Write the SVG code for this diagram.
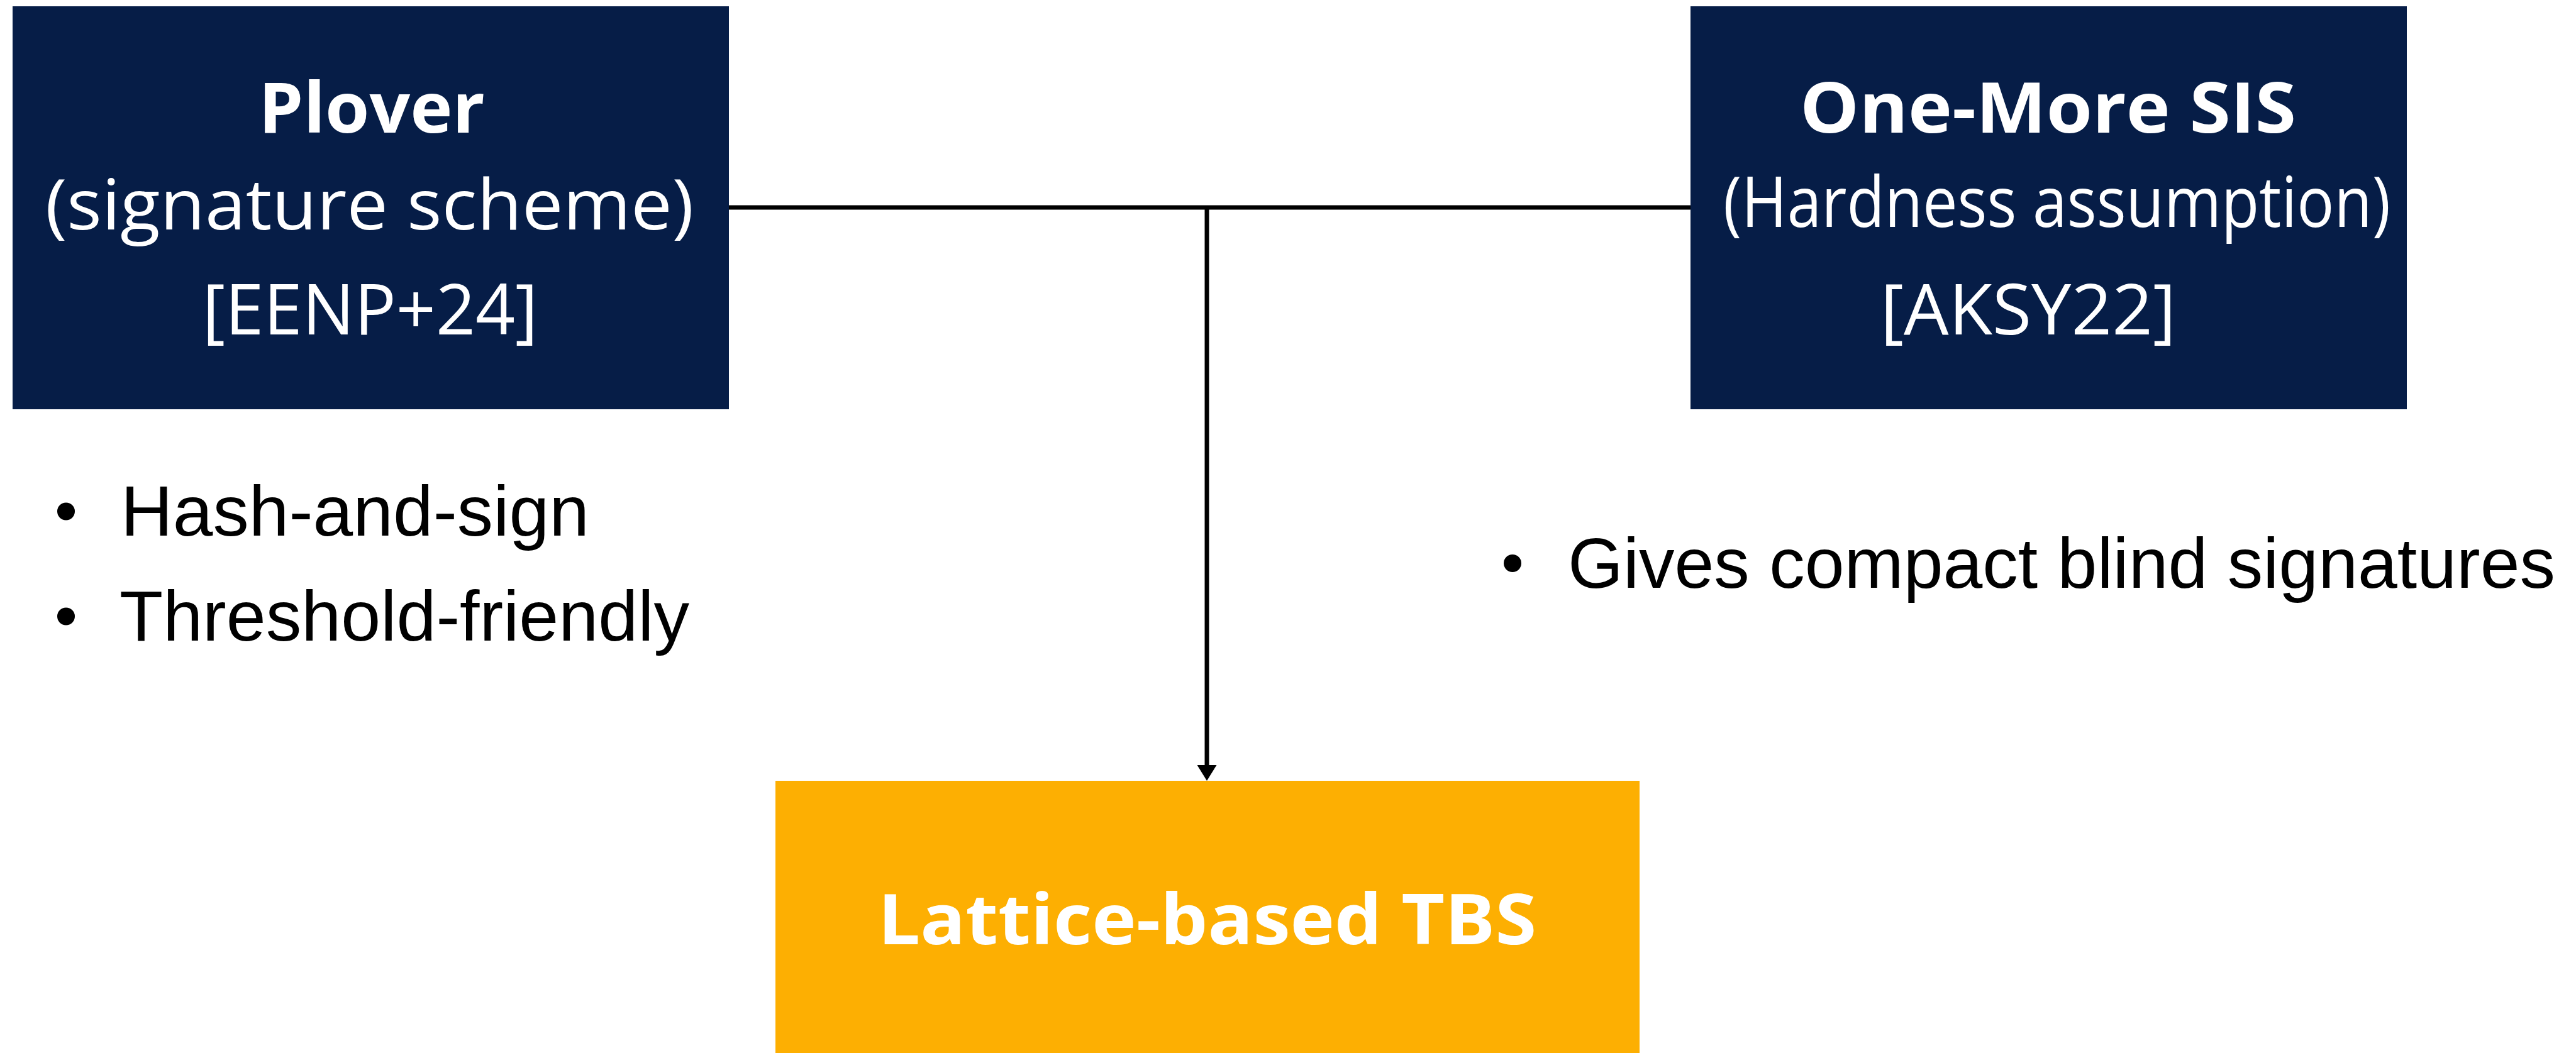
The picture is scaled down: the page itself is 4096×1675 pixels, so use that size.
<svg xmlns="http://www.w3.org/2000/svg" width="4096" height="1675" viewBox="0 0 4096 1675">
  <defs>
    <style>
      .navy { fill: #061d47; }
      .gold { fill: #fdaf02; }
      .title { font-family: "Open Sans", "Noto Sans", sans-serif; font-weight: 700; font-size: 112px; fill: #ffffff; }
      .sub { font-family: "Open Sans", "Noto Sans", sans-serif; font-weight: 400; font-size: 112px; fill: #ffffff; }
      .note { font-family: "Liberation Sans", Arial, sans-serif; font-size: 113px; fill: #000000; }
      .dot { fill: #000000; }
      .wire { fill: none; stroke: #000000; stroke-width: 7; }
    </style>
    <marker id="arrow" viewBox="0 0 25 31" refX="0" refY="15.5" markerWidth="25" markerHeight="31" markerUnits="userSpaceOnUse" orient="auto">
      <path d="M0,0 L25,15.5 L0,31 z" fill="#000000"/>
    </marker>
  </defs>

  <rect width="4096" height="1675" fill="#ffffff"/>

  <!-- connectors: the two sources join on a bar, which drops to the result -->
  <g id="connectors">
    <line class="wire" x1="1159" y1="330" x2="2688" y2="330"/>
    <line class="wire" x1="1919" y1="330" x2="1919" y2="1217" stroke-width="6.5" marker-end="url(#arrow)"/>
  </g>

  <g id="plover">
    <rect class="navy" x="20" y="10" width="1139" height="641"/>
    <text class="title" x="411" y="211" textLength="360" lengthAdjust="spacingAndGlyphs">Plover</text>
    <text class="sub" x="72" y="365" textLength="1031" lengthAdjust="spacingAndGlyphs">(signature scheme)</text>
    <text class="sub" x="322" y="532" textLength="533" lengthAdjust="spacingAndGlyphs">[EENP+24]</text>
  </g>

  <g id="plover-notes">
    <circle class="dot" cx="105" cy="813.5" r="14"/>
    <text class="note" x="192" y="852" textLength="745" lengthAdjust="spacingAndGlyphs">Hash-and-sign</text>
    <circle class="dot" cx="105" cy="980.5" r="14"/>
    <text class="note" x="190" y="1019" textLength="906" lengthAdjust="spacingAndGlyphs">Threshold-friendly</text>
  </g>

  <g id="one-more-sis">
    <rect class="navy" x="2688" y="10" width="1139" height="641"/>
    <text class="title" x="2862" y="211" textLength="789" lengthAdjust="spacingAndGlyphs">One-More SIS</text>
    <text class="sub" x="2740" y="361" font-size="96" textLength="1061" lengthAdjust="spacingAndGlyphs">(Hardness assumption)</text>
    <text class="sub" x="2990" y="532" textLength="470" lengthAdjust="spacingAndGlyphs">[AKSY22]</text>
  </g>

  <g id="one-more-sis-notes">
    <circle class="dot" cx="2405" cy="896" r="14"/>
    <text class="note" x="2493" y="934.5" textLength="1570" lengthAdjust="spacingAndGlyphs">Gives compact blind signatures</text>
  </g>

  <g id="lattice-tbs">
    <rect class="gold" x="1233" y="1242" width="1374" height="433"/>
    <text class="title" x="1396" y="1502" textLength="1047" lengthAdjust="spacingAndGlyphs">Lattice-based TBS</text>
  </g>
</svg>
